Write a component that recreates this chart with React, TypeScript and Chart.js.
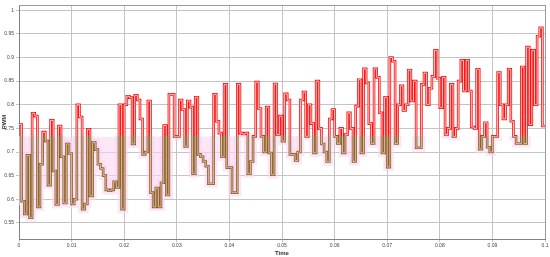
import React, { useEffect, useRef } from 'react';
import { Chart, registerables } from 'chart.js';

Chart.register(...registerables);

// PWM duty value held over each 0.5 ms sample
const pwmValues = [
  0.758, 0.596, 0.569, 0.693, 0.561, 0.782, 0.776, 0.584, 0.674, 0.742,
  0.723, 0.63, 0.767, 0.66, 0.589, 0.755, 0.69, 0.592, 0.717, 0.697,
  0.59, 0.6, 0.8, 0.774, 0.579, 0.59, 0.748, 0.607, 0.72, 0.705,
  0.674, 0.665, 0.65, 0.62, 0.618, 0.62, 0.637, 0.625, 0.8, 0.579,
  0.8, 0.818, 0.815, 0.717, 0.82, 0.81, 0.77, 0.695, 0.7, 0.808,
  0.614, 0.584, 0.624, 0.584, 0.635, 0.756, 0.609, 0.822, 0.822, 0.733,
  0.733, 0.81, 0.79, 0.712, 0.808, 0.795, 0.654, 0.816, 0.695, 0.69,
  0.68, 0.67, 0.633, 0.633, 0.822, 0.765, 0.74, 0.69, 0.843, 0.667,
  0.667, 0.614, 0.614, 0.843, 0.74, 0.738, 0.74, 0.654, 0.68, 0.733,
  0.848, 0.792, 0.733, 0.7, 0.795, 0.698, 0.652, 0.844, 0.737, 0.776,
  0.723, 0.823, 0.81, 0.695, 0.695, 0.682, 0.7, 0.81, 0.827, 0.733,
  0.8, 0.76, 0.698, 0.85, 0.75, 0.717, 0.7, 0.68, 0.77, 0.79,
  0.733, 0.718, 0.75, 0.698, 0.737, 0.783, 0.75, 0.68, 0.797, 0.853,
  0.698, 0.876, 0.846, 0.76, 0.718, 0.876, 0.858, 0.783, 0.698, 0.816,
  0.668, 0.9, 0.892, 0.718, 0.8, 0.84, 0.788, 0.8, 0.873, 0.808,
  0.85, 0.709, 0.709, 0.843, 0.867, 0.8, 0.835, 0.86, 0.915, 0.856,
  0.794, 0.858, 0.737, 0.75, 0.843, 0.733, 0.75, 0.85, 0.894, 0.829,
  0.894, 0.829, 0.753, 0.75, 0.875, 0.706, 0.733, 0.762, 0.71, 0.7,
  0.733, 0.733, 0.868, 0.8, 0.77, 0.8, 0.875, 0.765, 0.733, 0.718,
  0.718, 0.88, 0.718, 0.922, 0.758, 0.915, 0.8, 0.945, 0.963, 0.755,
];
const sampleStep = 0.0005;

const xTickValues = [0, 0.01, 0.02, 0.03, 0.04, 0.05, 0.06, 0.07, 0.08, 0.09, 0.1];
const xTickLabels = ['0', '0.01', '0.02', '0.03', '0.04', '0.05', '0.06', '0.07', '0.08', '0.09', '0.1'];
const yTickValues = [0.55, 0.6, 0.65, 0.7, 0.75, 0.8, 0.85, 0.9, 0.95, 1];
const yTickLabels = ['0.55', '0.6', '0.65', '0.7', '0.75', '0.8', '0.85', '0.9', '0.95', '1'];
const yMin = 0.516;
const yMax = 1.011;
const colorThreshold = 0.733;

export default function App() {
  const ref = useRef<HTMLCanvasElement>(null);

  useEffect(() => {
    if (!ref.current) return;
    const points = pwmValues.map((v, i) => ({ x: i * sampleStep, y: v }));
    points.push({ x: pwmValues.length * sampleStep, y: pwmValues[pwmValues.length - 1] });

    const splitColor = (above: string, below: string) => (ctx: any) => {
      const chart = ctx.chart;
      const area = chart.chartArea;
      if (!area) return above;
      const yPix = chart.scales.y.getPixelForValue(colorThreshold);
      const f = Math.min(1, Math.max(0, (yPix - area.top) / (area.bottom - area.top)));
      const g = chart.ctx.createLinearGradient(0, area.top, 0, area.bottom);
      g.addColorStop(0, above);
      g.addColorStop(f, above);
      g.addColorStop(f, below);
      g.addColorStop(1, below);
      return g;
    };

    const framePlugin = {
      id: 'frame',
      afterDraw(chart: any) {
        const { ctx, chartArea } = chart;
        ctx.save();
        ctx.strokeStyle = '#9a9a9a';
        ctx.lineWidth = 1;
        ctx.beginPath();
        ctx.moveTo(chartArea.left, Math.round(chartArea.top) + 0.5);
        ctx.lineTo(chartArea.right, Math.round(chartArea.top) + 0.5);
        ctx.moveTo(Math.round(chartArea.right) + 0.5, chartArea.top);
        ctx.lineTo(Math.round(chartArea.right) + 0.5, chartArea.bottom);
        ctx.stroke();
        ctx.restore();
      },
    };

    const common = {
      data: points,
      stepped: 'before' as const,
      pointRadius: 0,
      borderJoinStyle: 'miter' as const,
      borderCapStyle: 'butt' as const,
    };

    const chart = new Chart(ref.current, {
      type: 'line',
      data: {
        datasets: [
          { ...common, label: 'inner', borderWidth: 0.9, borderColor: splitColor('#ffe0e0', '#e6c4a4'), fill: false },
          { ...common, label: 'PWM', borderWidth: 2.6, borderColor: splitColor('#ff1010', '#8c6030'), fill: false },
          {
            ...common,
            label: 'glow',
            borderWidth: 8,
            borderColor: splitColor('rgba(0,0,0,0)', 'rgba(250,212,242,0.6)'),
            fill: { value: colorThreshold, above: 'rgba(0,0,0,0)', below: 'rgba(250,212,242,0.55)' },
          },
        ],
      },
      options: {
        responsive: false,
        animation: false,
        devicePixelRatio: 1,
        layout: { padding: { top: 4, right: 5, left: 0, bottom: 0 } },
        plugins: { legend: { display: false }, tooltip: { enabled: false } },
        scales: {
          x: {
            type: 'linear',
            min: 0,
            max: 0.1,
            afterBuildTicks: (s: any) => {
              s.ticks = xTickValues.map((v) => ({ value: v }));
            },
            afterFit: (s: any) => {
              s.height = 18;
            },
            ticks: {
              callback: (_v: any, i: number) => xTickLabels[i],
              font: { size: 5, family: 'Liberation Sans' },
              color: '#444',
              padding: 1,
              maxRotation: 0,
              autoSkip: false,
            },
            grid: { color: '#c4c4c4', lineWidth: 1, tickLength: 3 },
            border: { color: '#808080' },
            title: {
              display: true,
              text: 'Time',
              font: { size: 6, family: 'Liberation Sans', weight: 'bold' },
              color: '#333',
              padding: { top: 0, bottom: 0 },
            },
          },
          y: {
            type: 'linear',
            min: yMin,
            max: yMax,
            afterBuildTicks: (s: any) => {
              s.ticks = yTickValues.map((v) => ({ value: v }));
            },
            afterFit: (s: any) => {
              s.width = 19;
            },
            ticks: {
              callback: (_v: any, i: number) => yTickLabels[i],
              font: { size: 5, family: 'Liberation Sans' },
              color: '#444',
              padding: 2,
              autoSkip: false,
            },
            grid: { color: '#c4c4c4', lineWidth: 1, tickLength: 3 },
            border: { color: '#808080' },
            title: {
              display: true,
              text: 'PWM',
              font: { size: 6, family: 'Liberation Sans', weight: 'bold' },
              color: '#333',
              padding: { top: 1, bottom: 0 },
            },
          },
        },
      },
      plugins: [framePlugin],
    });
    return () => chart.destroy();
  }, []);

  return (
    <div style={{ position: 'fixed', left: 0, top: 0, width: 550, height: 257, background: '#fff' }}>
      <canvas ref={ref} width={550} height={257} />
    </div>
  );
}
